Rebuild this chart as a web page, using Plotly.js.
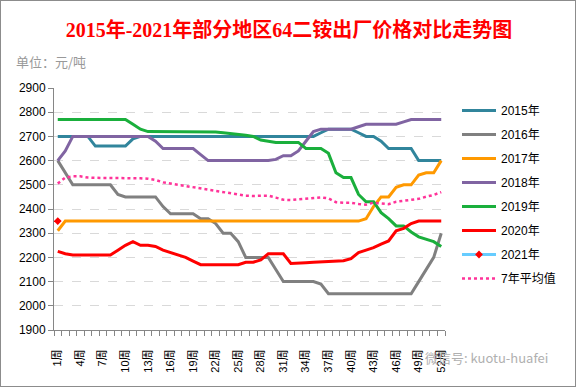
<!DOCTYPE html>
<html>
<head>
<meta charset="utf-8">
<script src="https://cdn.plot.ly/plotly-3.0.1.min.js"></script>
<style>
  html, body { margin: 0; padding: 0; background: #fff; }
  #wrap { position: relative; width: 576px; height: 387px; }
  #chart { width: 576px; height: 387px; }
  #frame { position: absolute; left: 0; top: 0; width: 574px; height: 385px; border: 1px solid #8c8c8c; pointer-events: none; }
</style>
</head>
<body>
<div id="wrap"><div id="chart"></div><div id="frame"></div></div>
<script>
const weeks = [1,2,3,4,5,6,7,8,9,10,11,12,13,14,15,16,17,18,19,20,21,22,23,24,25,26,
  27,28,29,30,31,32,33,34,35,36,37,38,39,40,41,42,43,44,45,46,47,48,49,50,51,52];
const tickWeeks = [1,4,7,10,13,16,19,22,25,28,31,34,37,40,43,46,49,52];
const tickLabels = ["1周","4周","7周","10周","13周","16周","19周","22周","25周","28周","31周","34周","37周","40周","43周","46周","49周","52周"];

const y2015 = [2700,2700,2700,2700,2700,2660,2660,2660,2660,2660,2690,2700,2700,2700,2700,2700,
  2700,2700,2700,2700,2700,2700,2700,2700,2700,2700,2700,2700,2700,2700,2700,2700,2700,2700,2700,
  2715,2730,2730,2730,2730,2715,2700,2700,2680,2650,2650,2650,2650,2600,2600,2600,2600];
const y2016 = [2600,2550,2500,2500,2500,2500,2500,2500,2460,2450,2450,2450,2450,2450,2410,2380,
  2380,2380,2380,2360,2360,2340,2300,2300,2265,2200,2200,2200,2200,2150,2100,2100,2100,2100,2100,
  2090,2050,2050,2050,2050,2050,2050,2050,2050,2050,2050,2050,2050,2100,2150,2200,2300];
const y2017 = [2310,2350,2350,2350,2350,2350,2350,2350,2350,2350,2350,2350,2350,2350,2350,2350,
  2350,2350,2350,2350,2350,2350,2350,2350,2350,2350,2350,2350,2350,2350,2350,2350,2350,2350,2350,
  2350,2350,2350,2350,2350,2350,2360,2410,2450,2450,2490,2500,2500,2540,2550,2550,2600];
const y2018 = [2600,2640,2700,2700,2700,2700,2700,2700,2700,2700,2700,2700,2700,2680,2650,2650,
  2650,2650,2650,2625,2600,2600,2600,2600,2600,2600,2600,2600,2600,2605,2620,2620,2640,2680,2720,
  2730,2730,2730,2730,2730,2740,2750,2750,2750,2750,2750,2760,2770,2770,2770,2770,2770];
const y2019 = [2770,2770,2770,2770,2770,2770,2770,2770,2770,2770,2750,2730,2720,2720,2720,2720,
  2720,2720,2720,2720,2720,2718,2715,2712,2710,2705,2700,2685,2680,2675,2675,2675,2675,2650,2650,
  2650,2630,2550,2530,2530,2460,2430,2430,2385,2360,2330,2330,2305,2285,2275,2265,2245];
const y2020 = [2225,2215,2210,2210,2210,2210,2210,2210,2230,2250,2265,2250,2250,2245,2230,2220,
  2210,2200,2185,2170,2170,2170,2170,2170,2170,2180,2180,2190,2215,2215,2215,2175,2175,2178,2180,
  2182,2183,2185,2186,2195,2220,2230,2240,2255,2268,2310,2320,2340,2350,2350,2350,2350];
const y2021 = [2350];
const yAvg = [2505,2530,2535,2535,2530,2528,2528,2528,2528,2530,2530,2527,2525,2520,2510,2505,
  2500,2495,2490,2483,2478,2475,2470,2466,2461,2455,2454,2454,2455,2447,2438,2437,2440,2445,2448,
  2448,2444,2428,2426,2426,2421,2418,2426,2422,2420,2430,2434,2436,2442,2451,2458,2470];

const seriesNames = ["2015年","2016年","2017年","2018年","2019年","2020年","2021年","7年平均值"];
const colors = ["#31859C","#808080","#FF9900","#8064A2","#1AAF3C","#FF0000","#66CCFF","#FF3399"];
const values = [y2015,y2016,y2017,y2018,y2019,y2020,y2021,yAvg];

const traces = values.map((v, i) => {
  const t = {
    x: weeks.slice(0, v.length), y: v, name: seriesNames[i], type: 'scatter',
    mode: 'lines', legendgroup: 'g' + i,
    line: {color: colors[i], width: 3}
  };
  if (i === 6) {
    t.mode = 'lines+markers';
    t.marker = {symbol: 'diamond', color: '#FF0000', size: 6};
  }
  if (i === 7) {
    t.line = {color: colors[i], width: 2.5, dash: 'dot'};
  }
  return t;
});

const baseFont = 'Liberation Sans, Arial, Noto Sans CJK SC, sans-serif';

const layout = {
  width: 576, height: 387,
  margin: {l: 54, r: 131, t: 88, b: 57},
  paper_bgcolor: '#ffffff', plot_bgcolor: '#ffffff',
  font: {family: baseFont, size: 12, color: '#000'},
  showlegend: true,
  title: {
    text: '2015年-2021年部分地区64二铵出厂价格对比走势图',
    x: 289 / 576, xanchor: 'center', y: 1 - 30 / 387, yanchor: 'middle',
    font: {family: 'Liberation Serif, Noto Sans CJK SC, serif', size: 20, color: '#FF0000', weight: 'bold'}
  },
  xaxis: {
    range: [0.5, 52.5], tickmode: 'array', tickvals: tickWeeks, ticktext: tickLabels,
    tickangle: -90, ticks: '', showgrid: false, zeroline: false,
    showline: true, linecolor: '#868686', linewidth: 1, ticklabelstandoff: 14,
    tickfont: {size: 11, family: baseFont, color: '#000'},
    minor: {ticks: 'outside', tick0: 0.5, dtick: 1, ticklen: 5, tickcolor: '#868686', showgrid: false}
  },
  yaxis: {
    range: [1900, 2900], dtick: 100, tick0: 1900, ticks: 'outside', ticklen: 5, tickcolor: '#868686',
    showline: true, linecolor: '#868686', linewidth: 1, zeroline: false,
    gridcolor: '#D9D9D9', griddash: 'dash', gridwidth: 1,
    tickfont: {size: 12, family: baseFont, color: '#000'}
  },
  legend: {
    x: (457 - 54) / 391, xanchor: 'left', y: (330 - 96) / 242, yanchor: 'top',
    traceorder: 'grouped', tracegroupgap: 5, bgcolor: 'rgba(0,0,0,0)', itemwidth: 34,
    font: {size: 12, family: baseFont, color: '#000'}
  },
  annotations: [
    {text: '单位：元/吨', xref: 'paper', yref: 'paper', x: -40 / 391, xanchor: 'left',
     y: (330 - 62) / 242, yanchor: 'middle', showarrow: false,
     font: {size: 13, color: '#999999', family: 'Noto Sans CJK SC, sans-serif'}},
    {text: '微信号: kuotu-huafei', xref: 'paper', yref: 'paper', x: (423 - 54) / 391, xanchor: 'left',
     y: -(357 - 330) / 242, yanchor: 'middle', showarrow: false,
     font: {size: 13, color: '#b0b0b0', family: 'Noto Sans CJK SC, sans-serif'}}
  ]
};

Plotly.newPlot('chart', traces, layout, {displayModeBar: false, staticPlot: true});
</script>
</body>
</html>
